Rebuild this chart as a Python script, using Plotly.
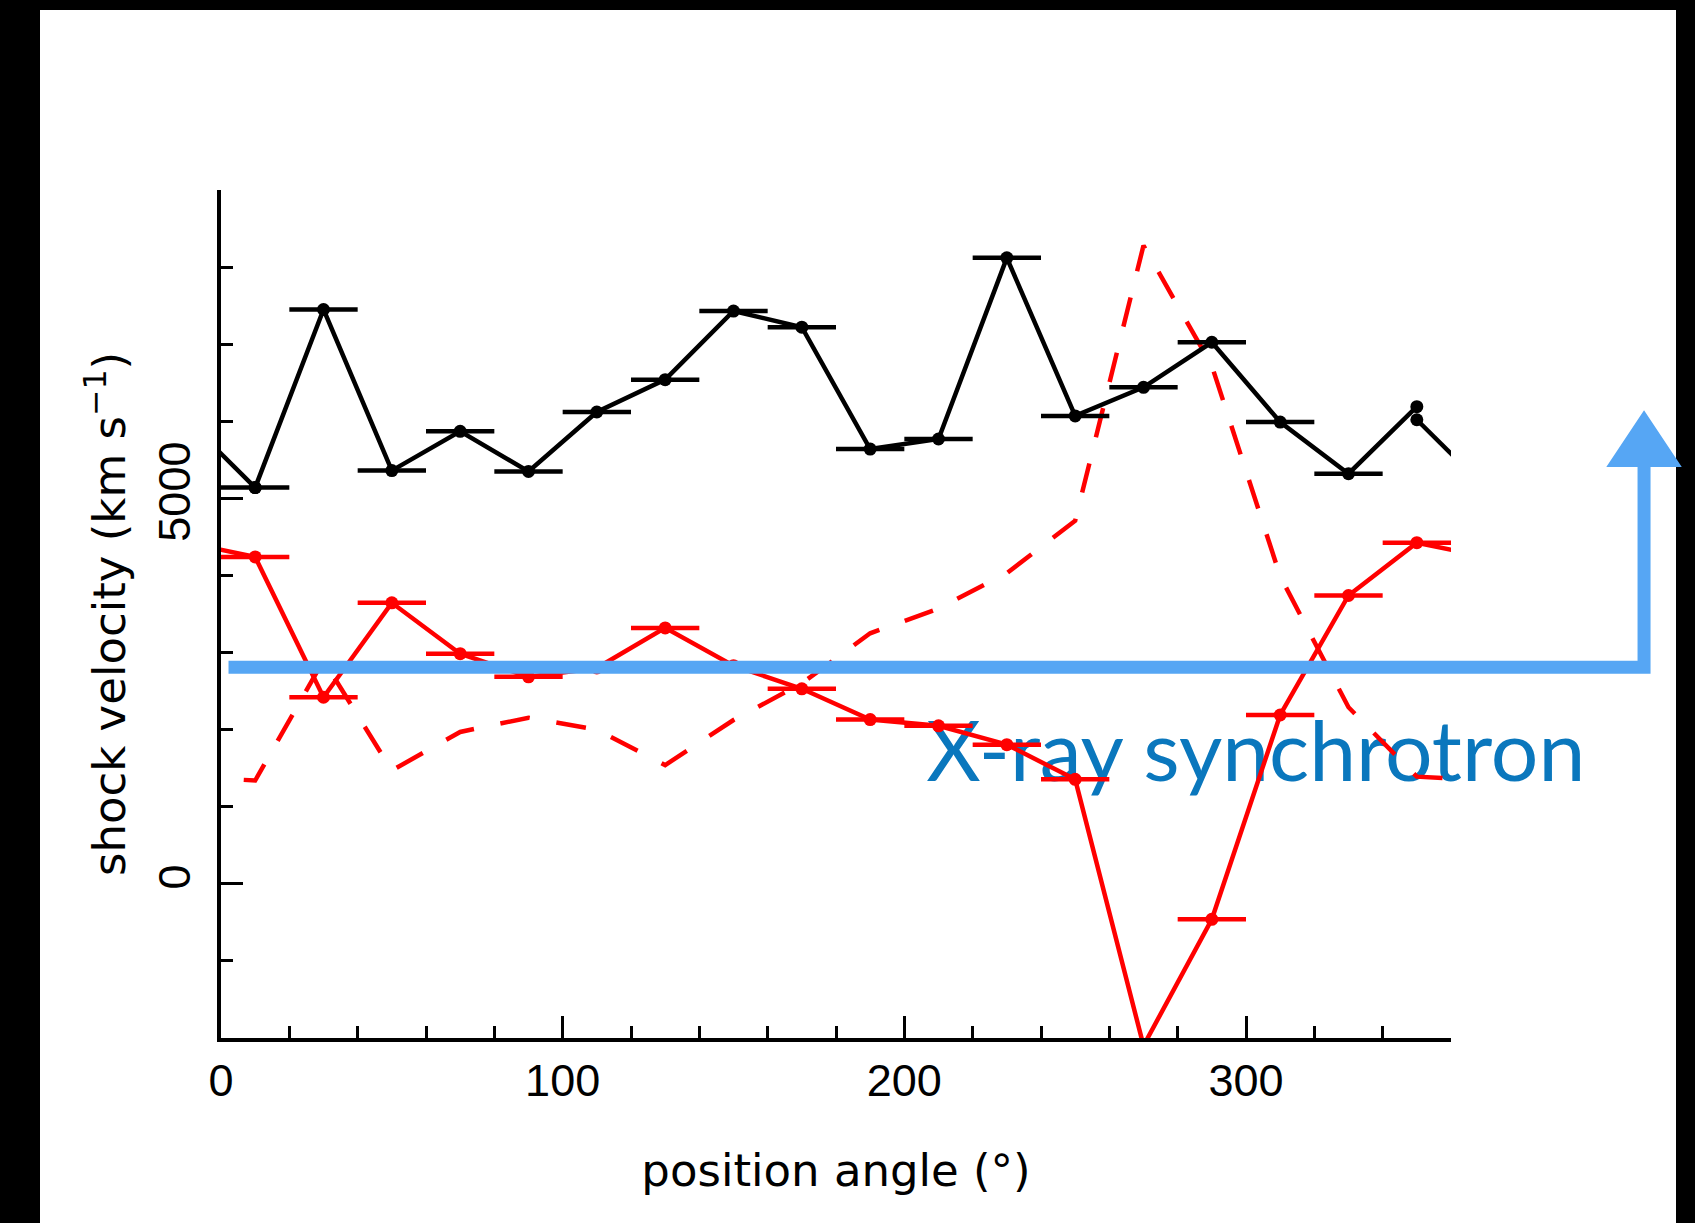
import plotly.graph_objects as go

# Position-angle bins (degrees, bin centres) and bin half-width
angle = [10, 30, 50, 70, 90, 110, 130, 150, 170, 190, 210, 230, 250, 270, 290, 310, 330, 350]
half_bin = 10

# Shock velocities (km/s)
v_black = [5140, 7450, 5360, 5870, 5350, 6120, 6540, 7430, 7220, 5640, 5770, 8120, 6070, 6440, 7025, 5990, 5320, 6190]
v_black_err = [10] * 17 + [0]
v_black_350_wrap = 6020      # second estimate of the 350 deg bin, used for the periodic join

v_red = [4240, 2420, 3645, 2985, 2685, 2800, 3320, 2830, 2530, 2130, 2050, 1805, 1355, -2100, -460, 2190, 3740, 4425]
v_red_dash = [1340, 2900, 1470, 1970, 2155, 2000, 1540, 2125, 2600, 3250, 3570, 4030, 4710, 8280, 6720, 3990, 2290, 1390]

# Synchrotron threshold velocity marked by the arrow
sync_level = 2810

X_RANGE = [0, 360]
Y_RANGE = [-2000, 9000]

W, H = 1695, 1223
M_L, M_R, M_T, M_B = 221, 244, 190, 185
PW = W - M_L - M_R
PH = H - M_T - M_B


def xp(deg):
    return (deg - X_RANGE[0]) / (X_RANGE[1] - X_RANGE[0])


def yp(v):
    return (v - Y_RANGE[0]) / (Y_RANGE[1] - Y_RANGE[0])


def px_x(p):
    return (p - M_L) / PW


def px_y(p):
    return (H - M_B - p) / PH


# periodic extension so the curves run across both edges of the 0-360 window
ang_wrap = [angle[-1] - 360] + angle + [angle[0] + 360]

LW = 4.5
MS = 13

fig = go.Figure()

# label sits underneath the curves
fig.add_trace(go.Scatter(
    x=[206.4], y=[1600], mode="text", text=["X-ray synchrotron"],
    textposition="middle right", cliponaxis=False,
    textfont=dict(family="Lato", size=84, color="#0A77BD"),
    showlegend=False, hoverinfo="skip"))

# red dashed model curve
fig.add_trace(go.Scatter(
    x=ang_wrap, y=[v_red_dash[-1]] + v_red_dash + [v_red_dash[0]],
    mode="lines", line=dict(color="#FF0000", width=LW, dash="30px,27px"),
    showlegend=False))

# red measurements
fig.add_trace(go.Scatter(
    x=ang_wrap, y=[v_red[-1]] + v_red + [v_red[0]],
    mode="lines+markers", line=dict(color="#FF0000", width=LW),
    marker=dict(color="#FF0000", size=MS),
    error_x=dict(type="constant", value=half_bin, width=0, thickness=LW, color="#FF0000"),
    showlegend=False))

# black measurements
fig.add_trace(go.Scatter(
    x=angle, y=v_black,
    mode="lines+markers", line=dict(color="black", width=LW),
    marker=dict(color="black", size=MS),
    error_x=dict(type="data", array=v_black_err, width=0, thickness=LW, color="black"),
    showlegend=False))

# periodic join of the black curve through 0/360 deg
fig.add_trace(go.Scatter(
    x=[angle[-1] - 360, angle[0], None, angle[-1], angle[0] + 360],
    y=[v_black_350_wrap, v_black[0], None, v_black_350_wrap, v_black[0]],
    mode="lines+markers", line=dict(color="black", width=LW),
    marker=dict(color="black", size=MS), showlegend=False))

axis_common = dict(
    showline=True, linecolor="black", linewidth=3.5, mirror=False,
    showgrid=False, zeroline=False, ticks="inside", tickcolor="black",
    tickwidth=3, ticklen=22,
    tickfont=dict(family="Liberation Sans", size=45, color="black"),
)

fig.update_xaxes(
    range=X_RANGE, dtick=100, tick0=0,
    minor=dict(ticks="inside", dtick=20, ticklen=12, tickwidth=3, tickcolor="black", showgrid=False),
    title=dict(text="position angle (°)", standoff=51,
               font=dict(family="DejaVu Sans", size=45, color="black")),
    **axis_common)

fig.update_yaxes(
    range=Y_RANGE, dtick=5000, tick0=0, tickangle=-90, ticklabelstandoff=9,
    minor=dict(ticks="inside", dtick=1000, ticklen=12, tickwidth=3, tickcolor="black", showgrid=False),
    title=dict(text="shock velocity (km s<sup>−1</sup>)", standoff=11,
               font=dict(family="DejaVu Sans", size=45, color="black")),
    **axis_common)

shapes = []
# black frame strips
for x0, x1, y0, y1 in [(0, 40, 0, H), (0, W, 0, 10), (1676, W, 0, H)]:
    shapes.append(dict(type="rect", xref="paper", yref="paper",
                       x0=px_x(x0), x1=px_x(x1), y0=px_y(y1), y1=px_y(y0),
                       fillcolor="black", line=dict(width=0), layer="above"))

# crayon arrow: horizontal at the threshold, then up the right-hand side
blue = "#56A6F4"
arr_x0, arr_x1 = 2.2, 416.5          # degrees
arr_base, arr_tip = 5420, 6120       # km/s
arr_half = 10.5                      # degrees
shapes.append(dict(type="path", xref="paper", yref="paper",
                   path=f"M {xp(arr_x0)},{yp(sync_level)} L {xp(arr_x1)},{yp(sync_level)} "
                        f"L {xp(arr_x1)},{yp(arr_base)}",
                   line=dict(color=blue, width=13), layer="above"))
shapes.append(dict(type="path", xref="paper", yref="paper",
                   path=f"M {xp(arr_x1 - arr_half)},{yp(arr_base)} L {xp(arr_x1 + arr_half)},{yp(arr_base)} "
                        f"L {xp(arr_x1)},{yp(arr_tip)} Z",
                   fillcolor=blue, line=dict(color=blue, width=2), layer="above"))

fig.update_layout(
    width=W, height=H,
    margin=dict(l=M_L, r=M_R, t=M_T, b=M_B, autoexpand=False),
    paper_bgcolor="white", plot_bgcolor="white",
    shapes=shapes, showlegend=False,
)

fig.write_html("out.html")
